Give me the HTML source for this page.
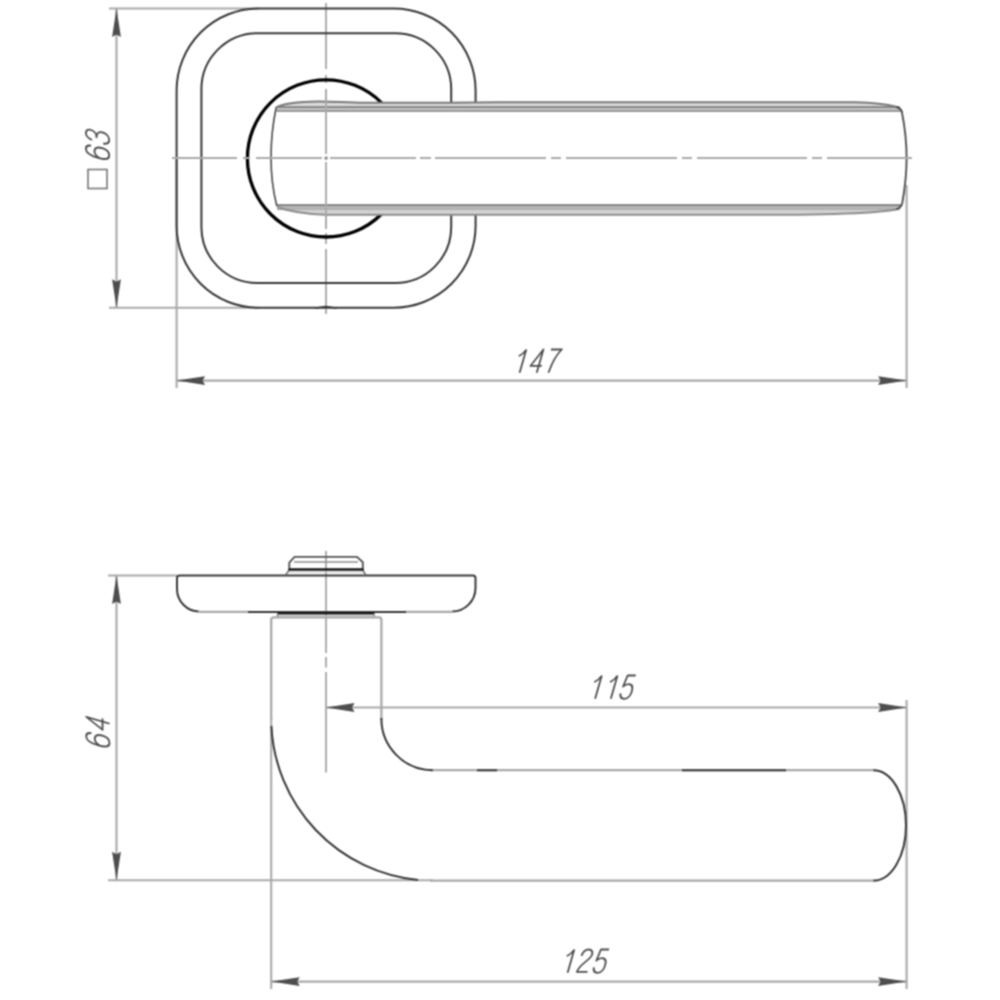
<!DOCTYPE html>
<html><head><meta charset="utf-8"><style>
html,body{margin:0;padding:0;background:#fff;width:1000px;height:1000px;overflow:hidden}
svg{display:block}
.dim{stroke:#aaaaaa;stroke-width:2.1}
.cl{stroke:#aaaaaa;stroke-width:1.9}
.obj{stroke:#383838;stroke-width:2.0}
</style></head><body>
<svg width="1000" height="1000" viewBox="0 0 1000 1000">
<defs>
<filter id="bl" x="0" y="0" width="1000" height="1000" filterUnits="userSpaceOnUse" color-interpolation-filters="sRGB"><feConvolveMatrix order="3" kernelMatrix="1 2 1 2 4 2 1 2 1" divisor="16" edgeMode="none" preserveAlpha="false"/></filter>
<path id="ar" d="M0,0 L-28.5,-4.4 L-26,0 L-28.5,4.4 Z" fill="#4e4e4e"/>
</defs>
<rect width="1000" height="1000" fill="#fff"/>
<g filter="url(#bl)">
<rect width="1000" height="1000" fill="#fff"/>
<g fill="none" stroke-linecap="butt">
<!-- ===== TOP VIEW ===== -->
<g class="dim">
<line x1="109" y1="8.5" x2="259" y2="8.5"/>
<line x1="109" y1="307.8" x2="259" y2="307.8"/>
<line x1="116.5" y1="8.5" x2="116.5" y2="307.8"/>
<line x1="176.6" y1="160" x2="176.6" y2="388"/>
<line x1="906.6" y1="185" x2="906.6" y2="388"/>
<line x1="176.6" y1="380.6" x2="906.6" y2="380.6"/>
</g>
<path class="cl" d="M326,3V69M326,75V83M326,89V154M326,162V229M326,233V244M326,249V314"/>
<!-- rose -->
<g class="obj">
<rect x="176.6" y="8.5" width="299" height="299.3" rx="82" ry="82"/>
<rect x="201.4" y="33.2" width="249.8" height="249.8" rx="56" ry="56"/>
</g>
<path d="M315,308.2 C320,308 322,306.6 326,306.6 C330,306.6 332,308 337,308.2" stroke="#3c3c3c" stroke-width="1.6"/>
<circle cx="326" cy="158.4" r="78.6" stroke="#000" stroke-width="3.3"/>
<!-- lever top view -->
<path d="M276,107.5 C283,103.5 296,101.6 318,101.4 C335,101.3 345,102.6 365,102.8 L450,102.8 C470,102.6 480,102.3 500,102.2 L855,102.2 C872,102.6 888,104.5 896,106.8 Q900.5,108 901.8,111.5 C904.5,125 906.6,145 906.6,158 C906.6,171 904.8,189 902.2,203.5 Q901,208 896,209.5 C885,211.5 860,213.2 835,213.9 L800,214.8 L326,214.8 C308,214.3 290,211.5 277,207 C272.8,190 271,172 271,158 C271,145 272.5,125 276,107.5 Z" fill="#fff" stroke="none"/>
<path d="M276,107.5 C283,103.5 296,101.6 318,101.4 C335,101.3 345,102.6 365,102.8 L450,102.8 C470,102.6 480,102.3 500,102.2 L855,102.2 C872,102.6 888,104.5 896,106.8 Q900.5,108 901.8,111.5 L901.8,111.8 L276.5,111.8 Z" fill="#d9d9d9"/>
<rect x="277" y="108.2" width="623" height="1.8" fill="#c2c2c2"/>
<path d="M276.5,204.5 L902.2,204.5 Q901,208 896,209.5 C885,211.5 860,213.2 835,213.9 L800,214.8 L326,214.8 C308,214.3 290,211.5 277,207 Z" fill="#d4d4d4"/>
<rect x="277" y="206.3" width="623" height="3.9" fill="#b3b3b3"/>
<path d="M276,107.5 C283,103.5 296,101.6 318,101.4 C335,101.3 345,102.6 365,102.8 L450,102.8 C470,102.6 480,102.3 500,102.2 L855,102.2 C872,102.6 888,104.5 896,106.8 Q900.5,108 901.8,111.5" stroke="#7a7a7a" stroke-width="2"/>
<line x1="276.5" y1="107.2" x2="900" y2="107.2" stroke="#7c7c7c" stroke-width="1.8"/>
<line x1="276.5" y1="110.9" x2="901.5" y2="110.9" stroke="#999" stroke-width="2"/>
<line x1="276.5" y1="205.2" x2="902" y2="205.2" stroke="#7a7a7a" stroke-width="1.8"/>
<path d="M277,207 C290,211.5 308,214.3 326,214.8 L800,214.8 L835,213.9 C860,213.2 885,211.5 896,209.5" stroke="#8c8c8c" stroke-width="2"/>
<path d="M276.2,107.5 C272.5,125 271,145 271,158 C271,172 272.8,190 276.8,206" stroke="#4a4a4a" stroke-width="1.6"/>
<path d="M896,106.8 Q900.5,108 901.8,111.5 C904.5,125 906.6,145 906.6,158 C906.6,171 904.8,189 902.2,203.5 Q901,208 896,209.5" stroke="#4a4a4a" stroke-width="1.8"/>
<path class="cl" d="M172,158H237M243,158H250M256,158H322M330,158H416M420,158H431M435,158H546M551,158H561M566,158H677M682,158H692M697,158H807M812,158H822M827,158H912"/>
<path class="cl" d="M326,89V154M326,162V229"/>
<rect x="324.6" y="156.6" width="3" height="3" fill="#8a8a8a"/>

<!-- ===== SIDE VIEW ===== -->
<g class="dim">
<line x1="108" y1="575.5" x2="177" y2="575.5"/>
<line x1="108" y1="880.3" x2="433" y2="880.3"/>
<line x1="116.5" y1="575.5" x2="116.5" y2="880.3"/>
<line x1="271.2" y1="718" x2="271.2" y2="989"/>
<line x1="906.6" y1="700" x2="906.6" y2="989"/>
<line x1="326" y1="707.5" x2="906.6" y2="707.5"/>
<line x1="271.2" y1="981.6" x2="906.6" y2="981.6"/>
</g>
<path class="cl" d="M326,551V653M326,657V667.5M326,672V772.5"/>
<!-- rose side -->
<path class="obj" d="M177,611.5 M199,611.5 A22.5,22.5 0 0 1 177,589 V578 Q177,575.5 179.5,575.5 H473 Q475.5,575.5 475.5,578 V588 A23.5,23.5 0 0 1 452,611.5"/>
<g stroke="#a9a9a9" stroke-width="2.3">
<line x1="198" y1="611.8" x2="249" y2="611.8"/>
<line x1="405" y1="611.8" x2="453" y2="611.8"/>
</g>
<line class="obj" x1="248" y1="612" x2="406" y2="612"/>
<!-- cap -->
<path d="M285.2,575.4 L289.3,570 M366,575.4 L362.8,570" stroke="#6a6a6a" stroke-width="1.5"/>
<line x1="289" y1="572.2" x2="363" y2="572.2" stroke="#cfcfcf" stroke-width="1.3"/>
<path d="M289.3,569.3 V562.6 L294.5,556.9 H357 L362.8,562.2 V569.3" stroke="#555" stroke-width="1.9"/>
<line x1="294" y1="561.9" x2="358" y2="561.9" stroke="#8c8c8c" stroke-width="1.5"/>
<line x1="289.5" y1="569.5" x2="362.6" y2="569.5" stroke="#151515" stroke-width="2.4" stroke-linecap="round"/>
<!-- under rose -->
<line x1="277.5" y1="613.4" x2="374.4" y2="613.4" stroke="#151515" stroke-width="2.2"/>
<path d="M277.5,613.5 V617.4 M374,613.5 V617.4" stroke="#777" stroke-width="1.3"/>
<line x1="278" y1="615.8" x2="373.5" y2="615.8" stroke="#c4c4c4" stroke-width="1.2"/>
<!-- lever side -->
<g stroke="#a9a9a9" stroke-width="2.3">
<path d="M271.2,720 V620 Q271.2,617.4 274,617.4 H379 Q381.4,617.4 381.4,620 V720"/>
<line x1="430" y1="770.2" x2="875" y2="770.2"/>
<line x1="430" y1="880.6" x2="875" y2="880.6"/>
</g>
<g class="obj">
<path d="M381.4,718 A51.5,51.5 0 0 0 432.9,770.2"/>
<path d="M873.5,770.2 A32.5,55.2 0 0 1 873.5,880.6"/>
<path d="M271.4,726 A162.3,162.3 0 0 0 418,879.9"/>
<path d="M477,770.2 H497 M682,770.2 H786"/>
</g>

<!-- arrows -->
<use href="#ar" transform="translate(116.5,8.5) rotate(-90)"/>
<use href="#ar" transform="translate(116.5,307.8) rotate(90)"/>
<use href="#ar" transform="translate(176.6,380.6) rotate(180)"/>
<use href="#ar" transform="translate(906.6,380.6)"/>
<use href="#ar" transform="translate(116.5,575.5) rotate(-90)"/>
<use href="#ar" transform="translate(116.5,880.3) rotate(90)"/>
<use href="#ar" transform="translate(326,707.5) rotate(180)"/>
<use href="#ar" transform="translate(906.6,707.5)"/>
<use href="#ar" transform="translate(271.2,981.6) rotate(180)"/>
<use href="#ar" transform="translate(906.6,981.6)"/>
</g>
<!-- texts -->
<g transform="translate(513.8,372.8) scale(0.97) skewX(-16)" fill="none" stroke="#4c4c4c" stroke-width="1.907" stroke-linecap="butt" stroke-linejoin="round"><path transform="translate(0.00,0)" d="M6,0V-24M6,-24C5,-21.3 3,-18.6 0.2,-17.2"/><path transform="translate(14.95,0)" d="M8.7,0V-24L0.2,-7.2H11.9"/><path transform="translate(31.03,0)" d="M0.4,-24H11.6C8.1,-19.5 5.4,-11 4.7,0"/></g>
<g transform="translate(589.3,698.8) scale(0.97) skewX(-16)" fill="none" stroke="#4c4c4c" stroke-width="1.907" stroke-linecap="butt" stroke-linejoin="round"><path transform="translate(0.00,0)" d="M6,0V-24M6,-24C5,-21.3 3,-18.6 0.2,-17.2"/><path transform="translate(16.19,0)" d="M6,0V-24M6,-24C5,-21.3 3,-18.6 0.2,-17.2"/><path transform="translate(30.10,0)" d="M10.9,-24H2.5L1.1,-12.6C2.4,-14.2 4.1,-15.2 6.1,-15.2C9.3,-15.2 11.5,-12.6 11.5,-7.6C11.5,-2.6 9.1,0 5.9,0C3,0 1,-1.8 0.4,-5.6"/></g>
<g transform="translate(561.8,972.8) scale(0.97) skewX(-16)" fill="none" stroke="#4c4c4c" stroke-width="1.907" stroke-linecap="butt" stroke-linejoin="round"><path transform="translate(0.00,0)" d="M6,0V-24M6,-24C5,-21.3 3,-18.6 0.2,-17.2"/><path transform="translate(14.64,0)" d="M0.7,-17.4C1,-21.6 3.3,-24 6.1,-24C9.1,-24 11.2,-21.9 11.2,-18.9C11.2,-13 1.2,-9.5 0.6,-0.9H11.6"/><path transform="translate(30.93,0)" d="M10.9,-24H2.5L1.1,-12.6C2.4,-14.2 4.1,-15.2 6.1,-15.2C9.3,-15.2 11.5,-12.6 11.5,-7.6C11.5,-2.6 9.1,0 5.9,0C3,0 1,-1.8 0.4,-5.6"/></g>
<g transform="translate(109.2,161.5) rotate(-90) scale(0.97) skewX(-16)" fill="none" stroke="#4c4c4c" stroke-width="1.907" stroke-linecap="butt" stroke-linejoin="round"><path transform="translate(0.00,0)" d="M11,-18.6C10.6,-22 8.7,-24 6.1,-24C2.5,-24 0.5,-20.5 0.5,-11.5C0.5,-3.5 2.7,0 6.2,0C9.5,0 11.7,-2.8 11.7,-7.6C11.7,-12.4 9.4,-15.2 6.4,-15.2C3.7,-15.2 1.4,-13.2 0.7,-9.6"/><path transform="translate(16.49,0)" d="M0.7,-17.6C1,-21.8 3.2,-24 5.9,-24C8.7,-24 10.7,-21.9 10.7,-18.9C10.7,-15.6 8.4,-13.1 4.7,-13.1C8.7,-13.1 11.5,-10.6 11.5,-6.6C11.5,-2.6 8.9,0 5.9,0C2.8,0 0.7,-2.3 0.3,-6.2"/></g>
<g transform="translate(109.5,749.0) rotate(-90) scale(0.97) skewX(-16)" fill="none" stroke="#4c4c4c" stroke-width="1.907" stroke-linecap="butt" stroke-linejoin="round"><path transform="translate(0.00,0)" d="M11,-18.6C10.6,-22 8.7,-24 6.1,-24C2.5,-24 0.5,-20.5 0.5,-11.5C0.5,-3.5 2.7,0 6.2,0C9.5,0 11.7,-2.8 11.7,-7.6C11.7,-12.4 9.4,-15.2 6.4,-15.2C3.7,-15.2 1.4,-13.2 0.7,-9.6"/><path transform="translate(17.53,0)" d="M8.7,0V-24L0.2,-7.2H11.9"/></g>
<rect x="88" y="169.5" width="19" height="19" fill="none" stroke="#777" stroke-width="1.6"/>
</g>
</svg>
</body></html>
